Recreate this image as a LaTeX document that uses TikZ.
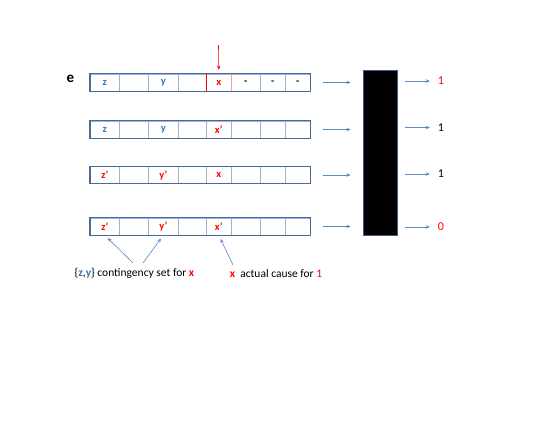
\documentclass[tikz,border=0pt]{standalone}
\usepackage{fontspec}
\setmainfont{Carlito}
\usetikzlibrary{arrows.meta}
\definecolor{rowblue}{HTML}{4A6A9C}
\definecolor{divblue}{HTML}{9DB3D6}
\definecolor{arrblue}{HTML}{5B87C5}
\definecolor{txtblue}{HTML}{2E75B6}
\definecolor{boxedge}{HTML}{3E5C85}
\definecolor{pinkred}{HTML}{F4A0A0}
\tikzset{
  cell/.style={draw=divblue, line width=0.6pt, minimum height=17pt, inner sep=0pt, anchor=west},
  ctext/.style={font=\bfseries\fontsize{10.5}{11}\selectfont, inner sep=0pt},
  rowbox/.style={draw=rowblue, line width=1.1pt},
  arr/.style={draw=arrblue, line width=0.6pt, -{Stealth[length=4pt,width=3.5pt]}},
  outlab/.style={font=\fontsize{12}{14}\selectfont, inner sep=2pt},
  note/.style={font=\fontsize{11.5}{14}\selectfont, inner sep=1pt},
  bz/.style={text=txtblue},
  rx/.style={text=red},
}
\begin{document}
\begin{tikzpicture}[x=1pt,y=-1pt]
\useasboundingbox (0,0) rectangle (545,421);
% row centers
\foreach \r/\yc in {1/82.5,2/129.5,3/175,4/226.5}{
  \node[cell, minimum width=29pt] (r\r c1) at (90,\yc) {};
  \node[cell, minimum width=29pt] (r\r c2) at (119,\yc) {};
  \node[cell, minimum width=30pt] (r\r c3) at (148,\yc) {};
  \node[cell, minimum width=28pt] (r\r c4) at (178,\yc) {};
  \node[cell, minimum width=25pt] (r\r c5) at (206,\yc) {};
  \node[cell, minimum width=29pt] (r\r c6) at (231,\yc) {};
  \node[cell, minimum width=25pt] (r\r c7) at (260,\yc) {};
  \node[cell, minimum width=25pt] (r\r c8) at (285,\yc) {};
}
% texts
\node[ctext, bz] at (r1c1) {z};
\node[ctext, bz] at (r1c3) {y};
\node[ctext, rx] at (r1c5) {x};
\node[ctext] at (r1c6) {-};
\node[ctext] at (r1c7) {-};
\node[ctext] at (r1c8) {-};
\node[ctext, bz] at (r2c1) {z};
\node[ctext, bz] at (r2c3) {y};
\node[ctext, rx] at (r2c5) {x’};
\node[ctext, rx] at (r3c1) {z’};
\node[ctext, rx] at (r3c3) {y’};
\node[ctext, rx] at (r3c5) {x};
\node[ctext, rx] at (r4c1) {z’};
\node[ctext, rx] at (r4c3) {y’};
\node[ctext, rx] at (r4c5) {x’};
% red cell borders in row 1
\draw[red, line width=0.7pt] (r1c5.north west) -- (r1c5.south west);
\draw[pinkred, line width=0.7pt] (r1c5.north east) -- (r1c5.south east);
% row outlines
\foreach \r in {1,2,3,4}{
  \draw[rowbox] (r\r c1.north west) rectangle (r\r c8.south east);
}
% e label
\node[font=\bfseries\fontsize{15}{17}\selectfont] (e) at (70.5,78.5) {e};
% red arrow
\coordinate (rtop) at (218.5,45);
\draw[red, line width=0.6pt, -{Stealth[length=4pt,width=3.5pt]}, shorten >=4pt] (rtop) -- (r1c5.north);
% black box
\node[draw=boxedge, fill=black, line width=1pt, minimum width=34pt, minimum height=165pt, inner sep=0pt] (bb) at (380,152.5) {};
% input arrows
\foreach \r in {1,2,3,4}{
  \draw[arr, shorten <=12pt, shorten >=12pt] (r\r c8.east) -- (r\r c8.east -| bb.west);
}
% outputs
\node[outlab, text=red] (o1) at (441,81) {1};
\node[outlab] (o2) at (441,127.5) {1};
\node[outlab] (o3) at (441,174) {1};
\node[outlab, text=red] (o4) at (441,227) {0};
\foreach \o in {1,2,3,4}{
  \draw[arr, shorten <=7pt, shorten >=6pt] (bb.east |- o\o) -- (o\o.west);
}
% notes
\node[note] (n1) at (134.5,273.5) {\{\textcolor{txtblue}{\textbf{z}},\textcolor{txtblue}{\textbf{y}}\} contingency set for \textcolor{red}{\textbf{x}}};
\node[note] (n2) at (276,273.5) {\textcolor{red}{\textbf{x}}\hspace{0.45em}actual cause for \textcolor{red}{1}};
\coordinate (t1) at (133,263);
\coordinate (t2) at (143,263);
\coordinate (t3) at (233,265);
\draw[arr, shorten >=4pt] (t1) -- (r4c1.south);
\draw[arr, shorten >=4pt] (t2) -- (r4c3.south);
\draw[arr, shorten >=4pt] (t3) -- (r4c5.south);
\end{tikzpicture}
\end{document}
